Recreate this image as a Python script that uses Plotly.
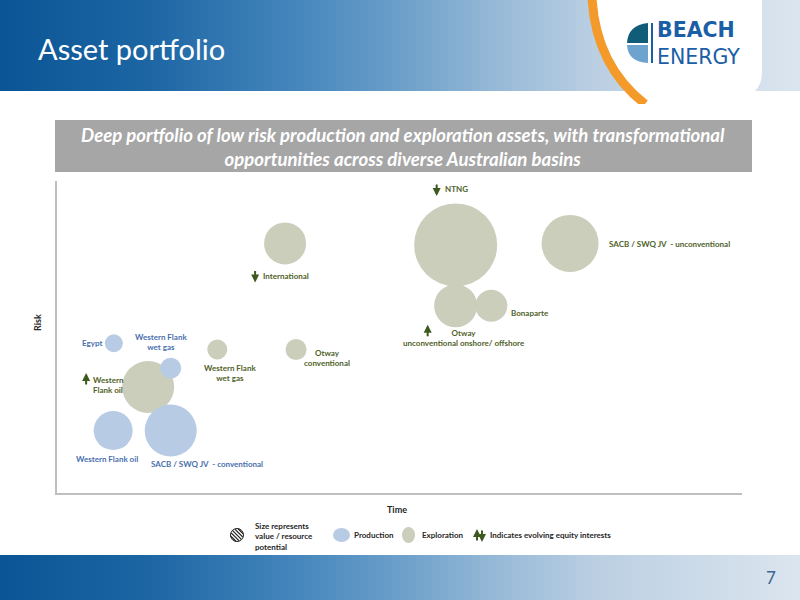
import plotly.graph_objects as go
import math

W, H = 800, 600

# ---------------- data ----------------
prod_names = ["Egypt", "Western Flank<br>wet gas", "Western Flank oil", "SACB / SWQ JV  - conventional"]
prod_time = [8.3, 16.6, 8.2, 16.6]
prod_risk = [48, 40, 20, 20]
prod_size = [18, 21, 39, 52]

expl_names = ["Western<br>Flank oil", "Western Flank<br>wet gas", "Otway<br>conventional", "International",
              "NTNG", "SACB / SWQ JV  - unconventional", "Otway<br>unconventional onshore/ offshore", "Bonaparte"]
expl_time = [13.3, 23.4, 34.9, 33.3, 58.2, 74.9, 58.2, 63.4]
expl_risk = [34, 46, 46, 80, 79.5, 80, 60, 60]
expl_size = [52, 20, 21, 42, 83, 57, 43, 32]
expl_equity = ["up", "", "", "down", "down", "", "up", ""]

legend_labels = ["Size represents<br>value / resource<br>potential", "Production", "Exploration",
                 "Indicates evolving equity interests"]

# ---------------- styles / layout ----------------
FONT = "Lato, 'Open Sans', sans-serif"
PROD_FILL = "#b8cbe4"
EXPL_FILL = "#cacebb"
BLUE_TXT = "#4a70ae"
GREEN_TXT = "#4f6228"
ARROW_C = "#3d5a1e"

# label placement (anchor, xshift, yshift) in pixels relative to bubble centre
prod_lab_pos = [("right", -10, 0), ("center", -10, 26), ("center", -6, -28), ("center", 36, -33)]
expl_lab_pos = [("left", -57, 2), ("center", 13, -24), ("center", 31, -9), ("left", -24, -33),
                ("left", -13, 56), ("left", 37, -1), ("center", 8, -32), ("left", 18, -7)]
expl_arrow_pos = [(-62, 14), None, None, (-30, -39), (-19, 49), None, (-28, -19), None]

fig = go.Figure()

fig.add_trace(go.Scatter(
    x=expl_time, y=expl_risk, mode="markers", name="Exploration",
    marker=dict(size=expl_size, color=EXPL_FILL, line=dict(width=0), opacity=1),
    hoverinfo="skip", showlegend=False))
fig.add_trace(go.Scatter(
    x=prod_time, y=prod_risk, mode="markers", name="Production",
    marker=dict(size=prod_size, color=PROD_FILL, line=dict(width=0), opacity=1),
    hoverinfo="skip", showlegend=False))
# dummy trace for full-page overlay axes
fig.add_trace(go.Scatter(x=[0], y=[0], xaxis="x2", yaxis="y2", mode="markers",
                         marker=dict(opacity=0), hoverinfo="skip", showlegend=False))

ARROW = dict(showarrow=True, arrowhead=2, arrowsize=0.8, arrowwidth=2, arrowcolor=ARROW_C,
             standoff=0, startstandoff=0, text="")

annotations = []
for i, name in enumerate(prod_names):
    anc, xs, ys = prod_lab_pos[i]
    annotations.append(dict(x=prod_time[i], y=prod_risk[i], xref="x", yref="y", text=name,
                            showarrow=False, xanchor=anc, yanchor="middle", xshift=xs, yshift=ys,
                            align="center", font=dict(family=FONT, size=8, color=BLUE_TXT, weight="bold")))
for i, name in enumerate(expl_names):
    anc, xs, ys = expl_lab_pos[i]
    annotations.append(dict(x=expl_time[i], y=expl_risk[i], xref="x", yref="y", text=name,
                            showarrow=False, xanchor=anc, yanchor="middle", xshift=xs, yshift=ys,
                            align="left" if anc == "left" else "center",
                            font=dict(family=FONT, size=8, color=GREEN_TXT, weight="bold")))
    if expl_equity[i]:
        axs, ays = expl_arrow_pos[i]
        annotations.append(dict(x=expl_time[i], y=expl_risk[i], xref="x", yref="y",
                                ax=0, ay=13 if expl_equity[i] == "up" else -13,
                                xshift=axs, yshift=ays, **ARROW))

shapes = []


def hex2rgb(h):
    h = h.lstrip("#")
    return tuple(int(h[k:k + 2], 16) for k in (0, 2, 4))


def grad(stops, x):
    for (x0, c0), (x1, c1) in zip(stops[:-1], stops[1:]):
        if x0 <= x <= x1:
            t = (x - x0) / (x1 - x0)
            a, b = hex2rgb(c0), hex2rgb(c1)
            return "rgb(%d,%d,%d)" % tuple(round(a[k] + (b[k] - a[k]) * t) for k in range(3))
    return stops[-1][1]


head_stops = [(0, "#0a5596"), (150, "#1d66a4"), (300, "#4687bd"), (400, "#6c9fc9"),
              (500, "#98bad8"), (600, "#bcd0e3"), (800, "#dbe5ef")]
N = 100
for band_y0, band_y1 in [(0, 91), (555, 600)]:
    for i in range(N):
        x0 = i * W / N
        x1 = (i + 1) * W / N + 0.6
        shapes.append(dict(type="rect", xref="x2", yref="y2", x0=x0, x1=x1, y0=band_y0, y1=band_y1,
                           fillcolor=grad(head_stops, (x0 + x1) / 2), line=dict(width=0), layer="below"))

# logo white shield and orange arc
shapes.append(dict(type="path", xref="x2", yref="y2",
                   path="M 594,0 L 762,0 L 762,72 Q 762,96 735,100 L 646,104 Q 600,70 594,0 Z",
                   fillcolor="white", line=dict(width=0), layer="below"))
shapes.append(dict(type="path", xref="x2", yref="y2", path="M 592,-2 Q 596,66 645,104",
                   line=dict(color="#f39a2a", width=9), layer="below"))
shapes.append(dict(type="rect", xref="x2", yref="y2", x0=600, x1=800, y0=104, y1=118,
                   fillcolor="white", line=dict(width=0), layer="below"))
# logo icon: half disc
shapes.append(dict(type="path", xref="x2", yref="y2",
                   path="M 648,23 L 648,43 L 627,43 Q 628,25 648,23 Z",
                   fillcolor="#115c78", line=dict(width=0)))
shapes.append(dict(type="path", xref="x2", yref="y2",
                   path="M 627,45 L 648,45 L 648,63 Q 628,62 627,45 Z",
                   fillcolor="#6fa3cf", line=dict(width=0)))
shapes.append(dict(type="rect", xref="x2", yref="y2", x0=651, x1=653, y0=23, y1=63,
                   fillcolor="#1a5ea6", line=dict(width=0)))

# subtitle box
shapes.append(dict(type="rect", xref="x2", yref="y2", x0=55, x1=752, y0=120, y1=172,
                   fillcolor="#a6a6a6", line=dict(width=0), layer="below"))

# legend icons
cx, cy, r = 237, 535, 6.5
shapes.append(dict(type="circle", xref="x2", yref="y2", x0=cx - r, x1=cx + r, y0=cy - r, y1=cy + r,
                   fillcolor="white", line=dict(color="#222222", width=1)))
d = -5.2
while d <= 5.3:
    h = math.sqrt(max(r * r - d * d, 0)) - 0.3
    nx, ny = d / math.sqrt(2), -d / math.sqrt(2)
    ux, uy = 1 / math.sqrt(2), 1 / math.sqrt(2)
    shapes.append(dict(type="line", xref="x2", yref="y2",
                       x0=cx + nx - h * ux, y0=cy + ny - h * uy, x1=cx + nx + h * ux, y1=cy + ny + h * uy,
                       line=dict(color="#222222", width=1.3)))
    d += 2.6
shapes.append(dict(type="circle", xref="x2", yref="y2", x0=333, x1=350, y0=528, y1=542,
                   fillcolor=PROD_FILL, line=dict(width=0)))
shapes.append(dict(type="circle", xref="x2", yref="y2", x0=402, x1=415, y0=527, y1=543,
                   fillcolor=EXPL_FILL, line=dict(width=0)))

# legend arrows
annotations.append(dict(x=477, y=529, xref="x2", yref="y2", ax=0, ay=13, **ARROW))
annotations.append(dict(x=482, y=542, xref="x2", yref="y2", ax=0, ay=-13, **ARROW))

LEG_FONT = dict(family=FONT, size=8, color="#262626", weight="bold")
annotations += [
    dict(x=253, y=536, xref="x2", yref="y2", text=legend_labels[0], showarrow=False, xanchor="left",
         yanchor="middle", align="left", font=LEG_FONT),
    dict(x=352, y=535, xref="x2", yref="y2", text=legend_labels[1], showarrow=False, xanchor="left",
         yanchor="middle", font=LEG_FONT),
    dict(x=420, y=535, xref="x2", yref="y2", text=legend_labels[2], showarrow=False, xanchor="left",
         yanchor="middle", font=LEG_FONT),
    dict(x=488, y=535, xref="x2", yref="y2", text=legend_labels[3], showarrow=False, xanchor="left",
         yanchor="middle", font=LEG_FONT),
    # axis titles
    dict(x=397, y=509, xref="x2", yref="y2", text="Time", showarrow=False, xanchor="center",
         yanchor="middle", font=dict(family=FONT, size=9, color="#262626", weight="bold")),
    dict(x=37, y=323, xref="x2", yref="y2", text="Risk", showarrow=False, textangle=-90, xanchor="center",
         yanchor="middle", font=dict(family=FONT, size=9, color="#262626", weight="bold")),
    # slide title
    dict(x=36, y=48, xref="x2", yref="y2", text="Asset portfolio", showarrow=False, xanchor="left",
         yanchor="middle", font=dict(family=FONT, size=29, color="white")),
    # subtitle
    dict(x=403, y=147, xref="x2", yref="y2",
         text="Deep portfolio of low risk production and exploration assets, with transformational<br>"
              "opportunities across diverse Australian basins",
         showarrow=False, xanchor="center", yanchor="middle", align="center",
         font=dict(family=FONT, size=18.6, color="white", weight="bold", style="italic")),
    # logo text (one two-line text, line spacing set by base size)
    dict(x=655, y=43, xref="x2", yref="y2",
         text="<span style='font-weight:bold'>BEACH</span><br>ENERGY",
         showarrow=False, xanchor="left", yanchor="middle", align="left",
         font=dict(family="'DejaVu Sans', sans-serif", size=20.5, color="#1a5ea6")),
    # page number
    dict(x=771, y=577, xref="x2", yref="y2", text="7", showarrow=False, xanchor="center",
         yanchor="middle", font=dict(family=FONT, size=17, color="#3d6391")),
]

fig.update_layout(
    width=W, height=H, margin=dict(l=0, r=0, t=0, b=0, autoexpand=False),
    paper_bgcolor="white", plot_bgcolor="rgba(0,0,0,0)",
    xaxis=dict(domain=[57 / W, 742 / W], range=[0, 100], showline=True, linecolor="#bfbfbf",
               linewidth=2, showgrid=False, zeroline=False, showticklabels=False, ticks="", fixedrange=True),
    yaxis=dict(domain=[107 / H, 419 / H], range=[0, 100], showline=True, linecolor="#bfbfbf",
               linewidth=2, showgrid=False, zeroline=False, showticklabels=False, ticks="", fixedrange=True),
    xaxis2=dict(domain=[0, 1], range=[0, W], visible=False, anchor="y2", fixedrange=True),
    yaxis2=dict(domain=[0, 1], range=[H, 0], visible=False, anchor="x2", fixedrange=True),
    shapes=shapes, annotations=annotations, showlegend=False,
)

fig.write_html("out.html", config={"displayModeBar": False},
               post_script="document.body.style.margin='0px';")
